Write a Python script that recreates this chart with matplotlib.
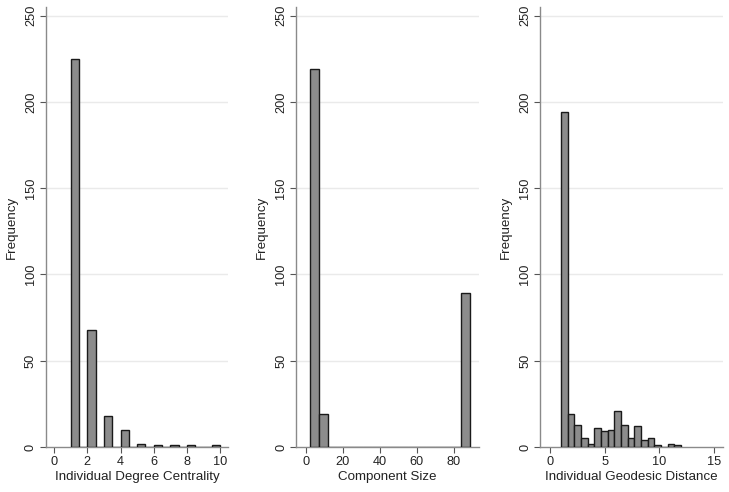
import numpy as np
import matplotlib
matplotlib.use("Agg")
import matplotlib.pyplot as plt

plt.rcParams['font.family'] = ['Liberation Sans', 'DejaVu Sans']

# histogram data (18 bins each, Stata-style)
degree_range = (1, 10)
degree_counts = [225, 0, 68, 0, 18, 0, 10, 0, 2, 0, 1, 0, 1, 0, 1, 0, 0, 1]

comp_range = (2, 89)
comp_counts = [219, 19, 0, 0, 0, 0, 0, 0, 0, 0, 0, 0, 0, 0, 0, 0, 0, 89]

geo_range = (1, 12)
geo_counts = [194, 19, 13, 5, 2, 11, 9, 10, 21, 13, 5, 12, 4, 5, 1, 0, 2, 1]

xlabels = ["Individual Degree Centrality", "Component Size",
           "Individual Geodesic Distance"]
xticks = [[0, 2, 4, 6, 8, 10], [0, 20, 40, 60, 80], [0, 5, 10, 15]]
yticks = [0, 50, 100, 150, 200, 250]

panels = [(degree_range, degree_counts), (comp_range, comp_counts),
          (geo_range, geo_counts)]
xlims = [(-0.5, 10.5), (-5.3, 93.4), (-0.9, 15.8)]
lefts = [0.0631, 0.4064, 0.7412]

fig = plt.figure(figsize=(7.29, 4.92), dpi=100)

for i, ((lo, hi), counts) in enumerate(panels):
    ax = fig.add_axes([lefts[i], 0.0915, 0.250, 0.894])
    edges = np.linspace(lo, hi, len(counts) + 1)
    ax.bar(edges[:-1], counts, width=np.diff(edges), align='edge',
           color='#8c8c8c', edgecolor='#1a1a1a', linewidth=1.0, zorder=3)
    ax.set_xlim(*xlims[i])
    ax.set_ylim(0, 255)
    ax.set_xticks(xticks[i])
    ax.set_yticks(yticks)
    ax.set_yticklabels([str(t) for t in yticks], rotation=90, va='center')
    for t in yticks[1:]:
        ax.axhline(t, color='#eaeaea', linewidth=1.0, zorder=1)
    for s in ['top', 'right']:
        ax.spines[s].set_visible(False)
    for s in ['left', 'bottom']:
        ax.spines[s].set_color('#8a8a8a')
        ax.spines[s].set_linewidth(1.0)
    ax.tick_params(axis='both', colors='#555555', labelcolor='#222222',
                   labelsize=9.2, length=4, width=0.8, pad=2.5)
    ax.set_xlabel(xlabels[i], fontsize=9.6, color='#222222', labelpad=2)
    ax.set_ylabel("Frequency", fontsize=9.6, color='#222222', labelpad=5)

plt.savefig("out.png", dpi=100)
